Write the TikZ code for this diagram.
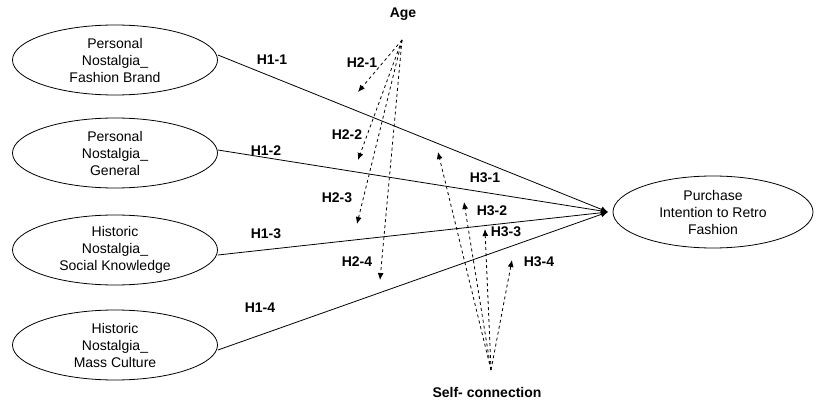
\documentclass[tikz,border=0pt]{standalone}
\usepackage{fontspec}
\setmainfont{Liberation Sans}
\usetikzlibrary{arrows.meta,shapes.geometric}
\begin{document}
\begin{tikzpicture}[x=1pt,y=-1pt,
			construct/.style = {ellipse, draw, thick, align=center, minimum width=205pt, minimum height=70pt, inner sep=0pt, font=\fontsize{14}{17}\selectfont},
			hyp/.style = {font=\bfseries\fontsize{14}{17}\selectfont},
			effect/.style = {thick, -{Latex[length=7pt,width=6pt]}},
			moder/.style = {thick, dashed, -{Latex[length=7pt,width=6pt]}}]
			\useasboundingbox (0,0) rectangle (821,406);
			
			\node[construct] (pnfb) at (115,60) {Personal\\Nostalgia\_\\Fashion Brand};
			\node[construct] (png) at (115,153) {Personal\\Nostalgia\_\\General};
			\node[construct] (hnsk) at (115,250) {Historic\\Nostalgia\_\\Social Knowledge};
			\node[construct] (hnmc) at (115,345) {Historic\\Nostalgia\_\\Mass Culture};
			\node[construct, minimum width=200pt, minimum height=72pt] (pirf) at (713,212) {Purchase\\Intention to Retro\\Fashion};
			\coordinate (tip) at (608,212);
			
			\node[hyp] (age) at (403,14) {Age};
			\coordinate (agept) at (402,40);
			\node[hyp] (self) at (487,392) {Self- connection};
			\coordinate (selfpt) at (491,370);
			
			% main effects
			\draw[effect] (pnfb.east) ++(0,-5) -- (tip);
			\draw[effect] (png.east) ++(0,-3) -- (tip);
			\draw[effect] (hnsk.east) ++(0,5) -- (tip);
			\draw[effect] (hnmc.east) ++(0,5) -- (tip);
			\node[hyp] (h11) at (272,60) {H1-1};
			\node[hyp] (h12) at (266,151) {H1-2};
			\node[hyp] (h13) at (266,234) {H1-3};
			\node[hyp] (h14) at (260,308) {H1-4};
			
			% moderation by age
			\coordinate (a1) at (358,92);
			\coordinate (a2) at (358,160);
			\coordinate (a3) at (357,224);
			\coordinate (a4) at (380,280);
			\foreach \t in {a1,a2,a3,a4}
				\draw[moder] (agept) -- (\t);
			\node[hyp] (h21) at (362,63) {H2-1};
			\node[hyp] (h22) at (347,135) {H2-2};
			\node[hyp] (h23) at (337,198) {H2-3};
			\node[hyp] (h24) at (357,262) {H2-4};
			
			% moderation by self-connection
			\coordinate (s1) at (438,152);
			\coordinate (s2) at (464,202);
			\coordinate (s3) at (485,229);
			\coordinate (s4) at (512,260);
			\foreach \t in {s1,s2,s3,s4}
				\draw[moder] (selfpt) -- (\t);
			\node[hyp] (h31) at (485,178) {H3-1};
			\node[hyp] (h32) at (492,211) {H3-2};
			\node[hyp] (h33) at (506,232) {H3-3};
			\node[hyp] (h34) at (539,262) {H3-4};
			\end{tikzpicture}
\end{document}
